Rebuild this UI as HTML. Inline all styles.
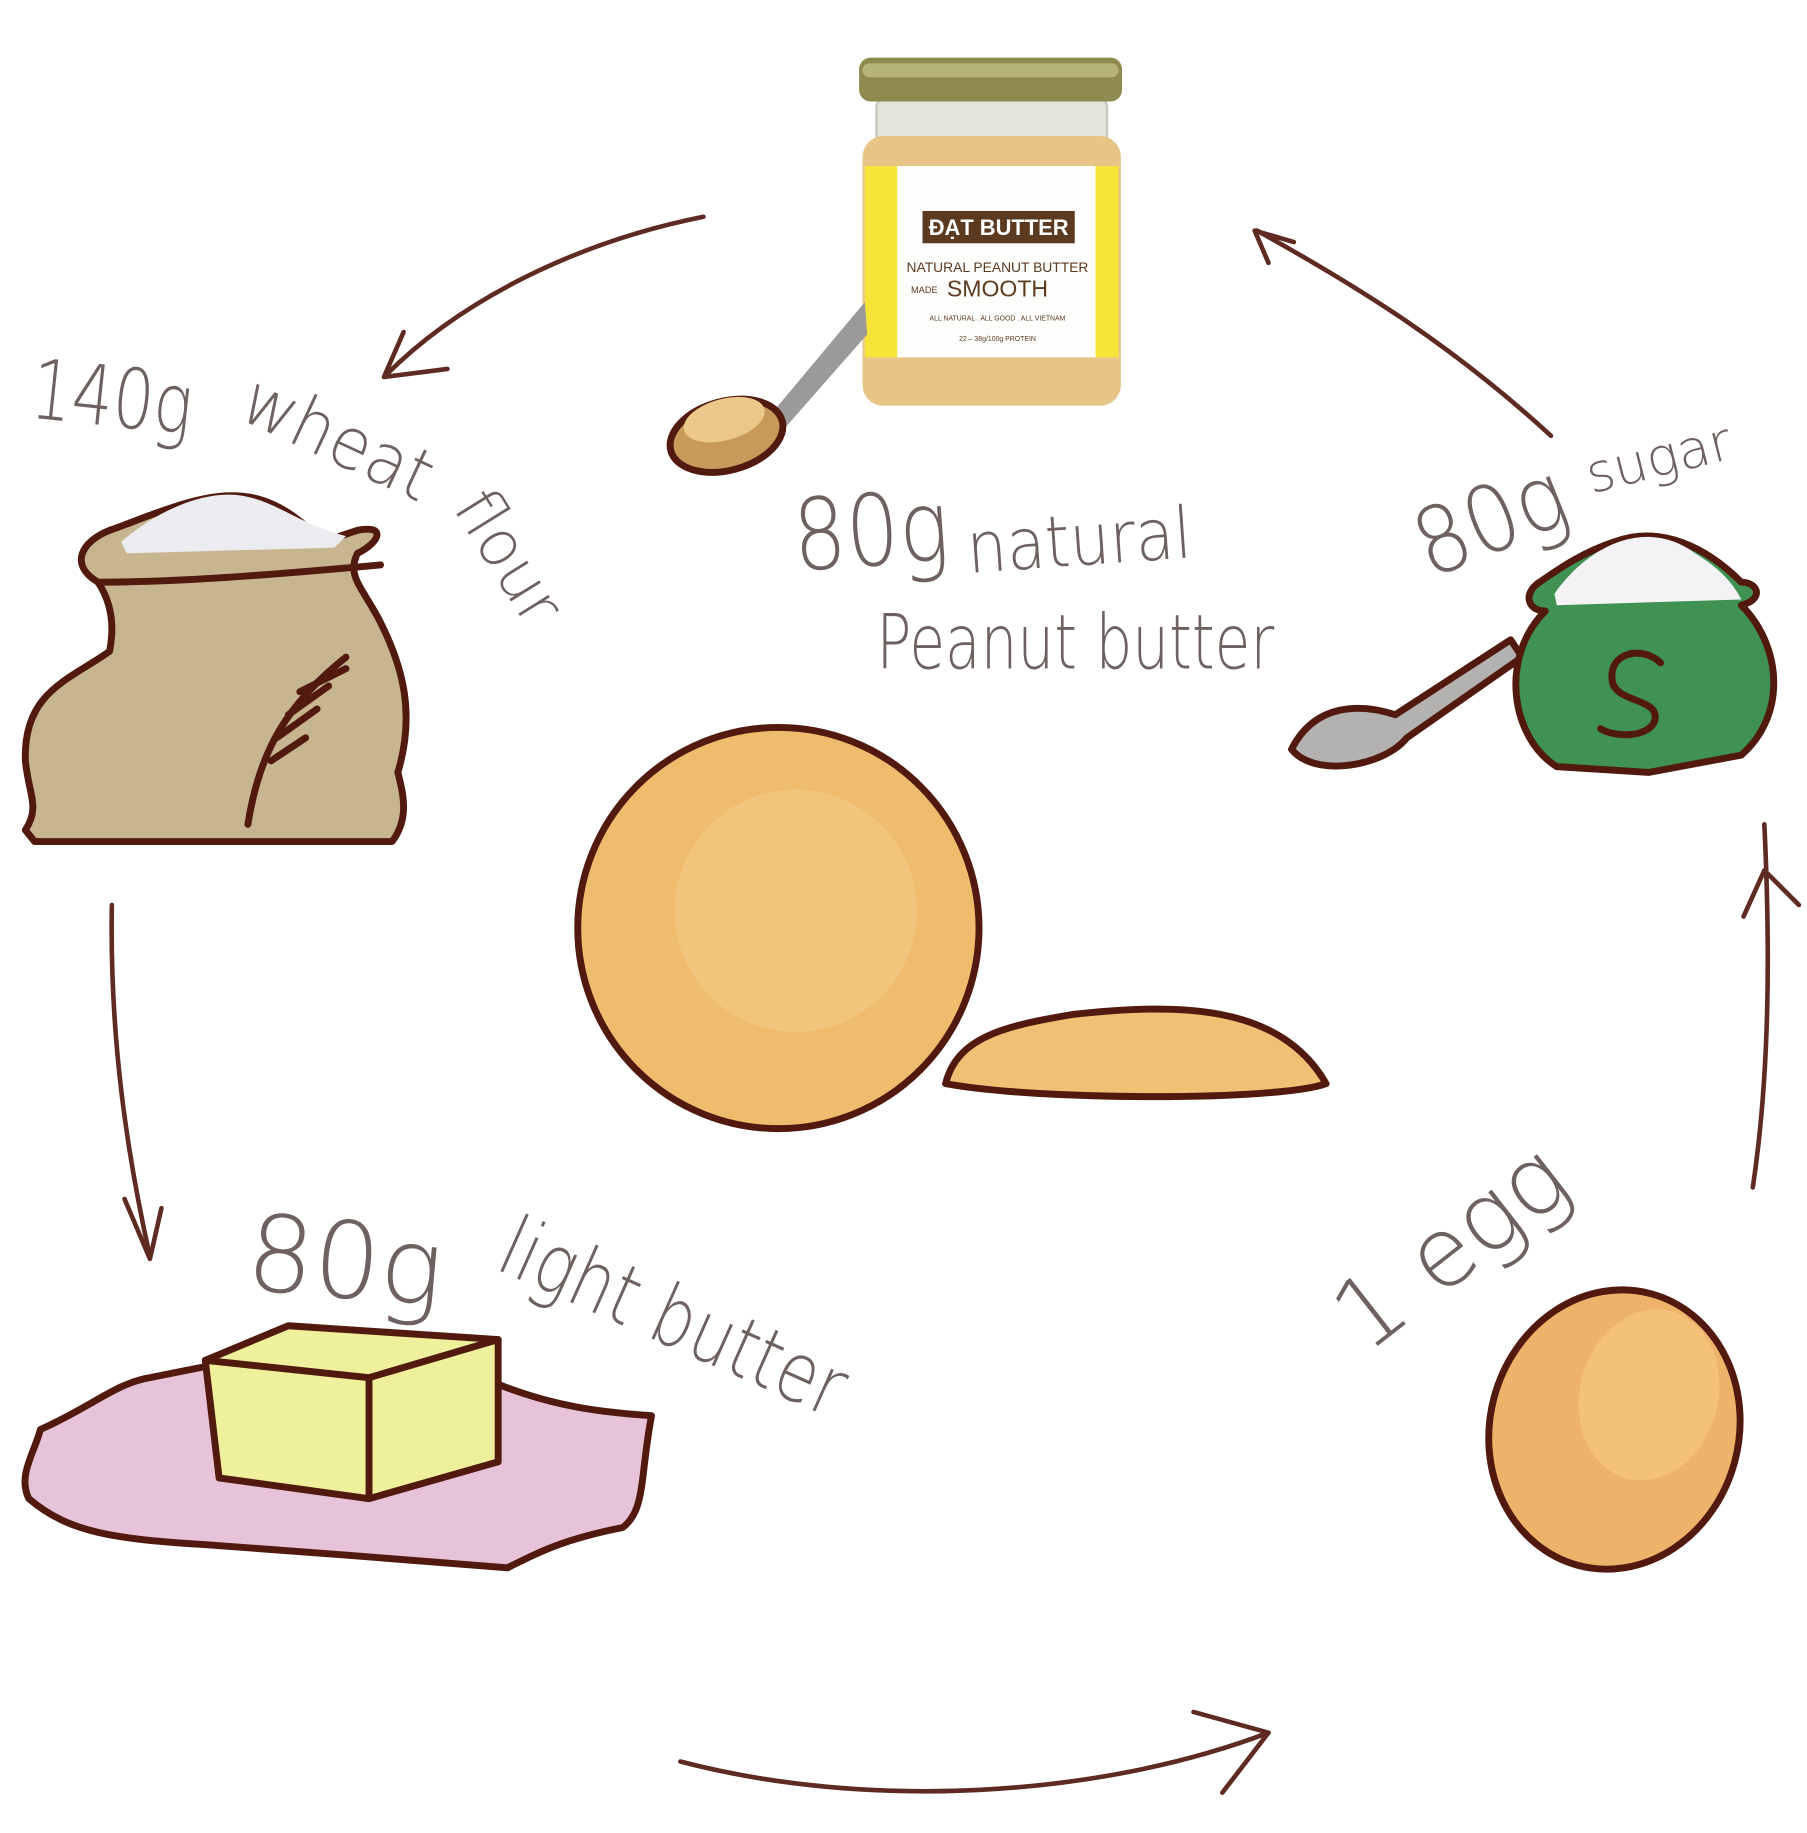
<!DOCTYPE html>
<html><head><meta charset="utf-8"><style>
html,body{margin:0;padding:0;background:#fff;}
svg{display:block;}
.t{font-family:"DejaVu Sans","Liberation Sans",sans-serif;fill:#6e6160;font-weight:300;}
.ol{stroke:#521a0e;stroke-width:6;stroke-linejoin:round;stroke-linecap:round;}
.ar{fill:none;stroke:#5e2a22;stroke-width:4;stroke-linecap:round;stroke-linejoin:round;}
</style></head><body>
<svg width="1807" height="1833" viewBox="0 0 1567 1590" preserveAspectRatio="none" xmlns="http://www.w3.org/2000/svg">
<rect width="1567" height="1590" fill="#fff"/>
<path class="ar" d="M610 188 C500 210 400 260 335 325"/>
<path class="ar" d="M350 288 L333 327 L388 320"/>
<path class="ar" d="M97 785 C95 900 110 1000 130 1090"/>
<path class="ar" d="M108 1040 L130 1092 L140 1048"/>
<path class="ar" d="M590 1528 C750 1570 950 1560 1100 1503"/>
<path class="ar" d="M1035 1485 L1100 1503 L1060 1555"/>
<path class="ar" d="M1520 1030 C1535 930 1535 820 1530 715"/>
<path class="ar" d="M1512 795 L1530 755 L1560 785"/>
<path class="ar" d="M1345 378 C1260 300 1180 250 1090 200"/>
<path class="ar" d="M1100 228 L1088 200 L1122 210"/>
<rect x="760" y="85" width="200" height="40" rx="8" fill="#e4e3dc" stroke="#c9c6bb" stroke-width="2"/>
<rect x="745" y="50" width="228" height="38" rx="10" fill="#8e8a50"/>
<rect x="748" y="55" width="222" height="12" rx="6" fill="#b7b478"/>
<rect x="748" y="118" width="224" height="234" rx="18" fill="#e7c587"/>
<rect x="750" y="144" width="220" height="166" fill="#fdfdfb"/>
<rect x="750" y="144" width="28" height="166" fill="#f6e538"/>
<rect x="950" y="144" width="20" height="166" fill="#f6e538"/>
<rect x="800" y="183" width="132" height="28" fill="#5b3a20"/>
<text x="866" y="204" text-anchor="middle" font-family="Liberation Sans,sans-serif" font-weight="bold" font-size="19" fill="#fff">ĐẠT BUTTER</text>
<text x="865" y="236" text-anchor="middle" font-family="Liberation Sans,sans-serif" font-size="12" fill="#5b3a20">NATURAL PEANUT BUTTER</text>
<text x="865" y="257" text-anchor="middle" font-family="Liberation Sans,sans-serif" font-size="20" fill="#5b3a20">SMOOTH</text>
<text x="790" y="254" font-family="Liberation Sans,sans-serif" font-size="8" fill="#5b3a20">MADE</text>
<text x="865" y="278" text-anchor="middle" font-family="Liberation Sans,sans-serif" font-size="6" fill="#5b3a20">ALL NATURAL . ALL GOOD . ALL VIETNAM</text>
<text x="865" y="296" text-anchor="middle" font-family="Liberation Sans,sans-serif" font-size="6" fill="#5b3a20">22 – 38g/100g PROTEIN</text>
<path d="M750 262 L668 360 L680 372 L752 290Z" fill="#9c9a98"/>
<ellipse cx="630" cy="378" rx="50" ry="30" fill="#c89a5a" class="ol" stroke-width="5" transform="rotate(-15 630 378)"/>
<ellipse cx="628" cy="364" rx="36" ry="18" fill="#ecc78a" transform="rotate(-15 628 364)"/>
<path class="ol" fill="#c7b58f" d="M95 460 C70 470 60 490 85 505 C95 520 100 540 95 565 C60 590 20 600 22 660 C25 690 35 700 22 720 L30 730 L340 730 C355 710 350 690 345 670 C360 620 350 580 330 540 C315 510 300 500 310 480 C330 470 335 455 310 460 L280 470 C240 430 210 420 150 440 C120 450 110 455 95 460Z"/>
<path d="M105 470 C140 440 180 425 210 430 C240 435 260 455 300 465 L290 475 L110 480Z" fill="#ecebef"/>
<path class="ol" fill="none" d="M85 505 C150 505 220 500 330 490"/>
<path class="ol" fill="none" d="M215 715 C225 650 250 610 300 570"/>
<path class="ol" fill="none" stroke-width="4" d="M235 660 L265 640 M240 640 L275 615 M250 620 L285 595 M260 600 L300 580"/>
<path d="M1120 650 C1140 610 1180 610 1210 620 L1310 555 L1320 570 L1220 640 C1200 665 1140 675 1120 650Z" fill="#b4b2b0" class="ol" stroke-width="5"/>
<path class="ol" fill="#3f9251" d="M1335 505 C1320 515 1325 530 1340 530 C1300 570 1310 640 1350 665 L1430 670 L1510 655 C1550 620 1545 560 1510 525 C1530 520 1525 505 1510 505 C1480 475 1440 455 1400 470 C1370 480 1350 495 1335 505Z"/>
<path d="M1348 515 C1380 470 1430 450 1470 480 C1495 495 1505 510 1510 520 L1350 525Z" fill="#f3f3f6"/>
<path class="ol" fill="none" stroke-width="9" d="M1440 575 C1425 560 1395 565 1398 590 C1400 610 1440 605 1435 625 C1430 640 1400 640 1388 632"/>
<circle cx="675" cy="805" r="174" fill="#efbc6e" class="ol"/>
<circle cx="690" cy="790" r="105" fill="#f1cd85" opacity=".6"/>
<path class="ol" fill="#eec175" d="M820 940 C830 900 870 890 930 880 C1020 870 1110 870 1150 940 C1110 955 900 955 820 940Z"/>
<path class="ol" fill="#e6c3d8" d="M35 1240 C80 1220 100 1200 130 1195 L180 1185 L430 1200 C480 1220 520 1225 565 1228 C555 1280 560 1310 540 1325 C490 1335 470 1345 440 1360 C380 1355 250 1345 180 1340 C100 1335 60 1330 25 1300 C15 1280 30 1260 35 1240Z"/>
<path class="ol" fill="#eef09b" d="M178 1180 L250 1150 L432 1162 L432 1268 L320 1300 L190 1282Z"/>
<path class="ol" fill="none" d="M178 1180 L320 1195 L432 1162 M320 1195 L320 1298"/>
<ellipse cx="1400" cy="1240" rx="108" ry="122" transform="rotate(15 1400 1240)" fill="#eeb36a" class="ol"/>
<ellipse cx="1430" cy="1210" rx="60" ry="75" transform="rotate(15 1430 1210)" fill="#f6c881" opacity=".7"/>
<text class="t" font-size="72" x="25" y="362" textLength="140" lengthAdjust="spacingAndGlyphs" transform="rotate(6 25 362)">140g</text>
<text class="t" font-size="62" x="205" y="362" textLength="175" lengthAdjust="spacingAndGlyphs" transform="rotate(25 205 362)">wheat</text>
<text class="t" font-size="56" x="392" y="440" textLength="125" lengthAdjust="spacingAndGlyphs" transform="rotate(58 392 440)">flour</text>
<text class="t" font-size="86" x="690" y="495" textLength="135" lengthAdjust="spacingAndGlyphs" transform="rotate(-4 690 495)">80g</text>
<text class="t" font-size="62" x="840" y="497" textLength="195" lengthAdjust="spacingAndGlyphs" transform="rotate(-4 840 497)">natural</text>
<text class="t" font-size="66" x="760" y="580" textLength="345" lengthAdjust="spacingAndGlyphs">Peanut butter</text>
<text class="t" font-size="80" x="1240" y="502" textLength="135" lengthAdjust="spacingAndGlyphs" transform="rotate(-22 1240 502)">80g</text>
<text class="t" font-size="46" x="1380" y="428" textLength="128" lengthAdjust="spacingAndGlyphs" transform="rotate(-14 1380 428)">sugar</text>
<text class="t" font-size="92" x="212" y="1118" textLength="170" lengthAdjust="spacingAndGlyphs" transform="rotate(5 212 1118)">80g</text>
<text class="t" font-size="72" x="428" y="1100" textLength="320" lengthAdjust="spacingAndGlyphs" transform="rotate(24 428 1100)">light butter</text>
<text class="t" font-size="84" x="1185" y="1175" textLength="230" lengthAdjust="spacingAndGlyphs" transform="rotate(-38 1185 1175)">1 egg</text>
</svg>
</body></html>
